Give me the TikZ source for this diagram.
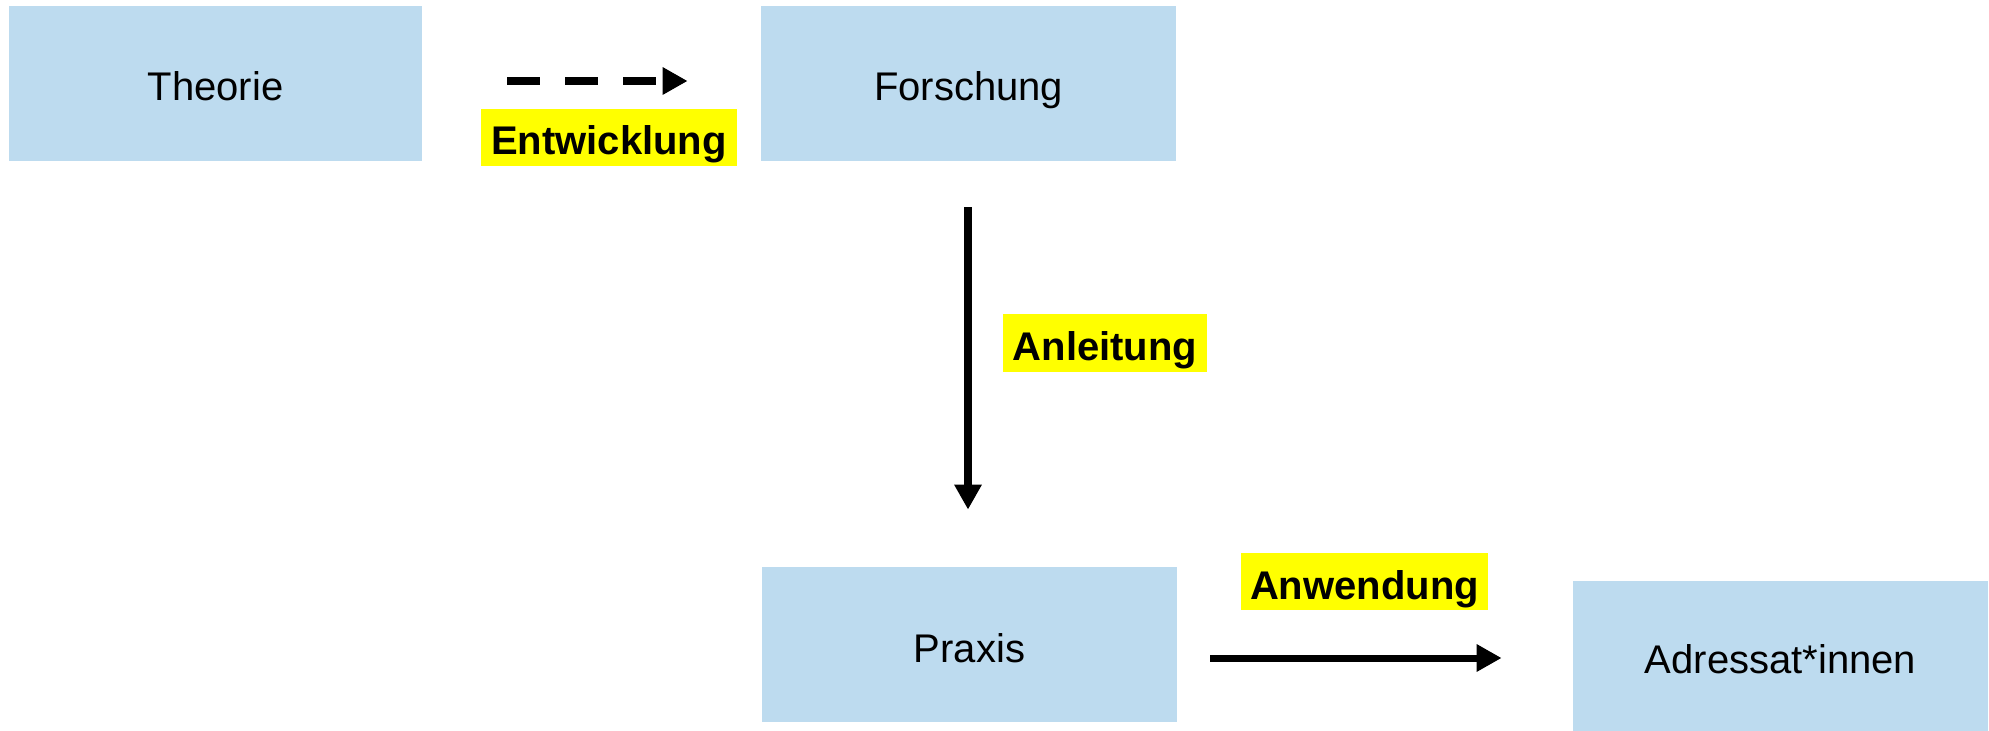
\documentclass[tikz,border=0pt]{standalone}
\usepackage{fontspec}
\setmainfont{Liberation Sans}
\usetikzlibrary{arrows.meta,calc}
\definecolor{boxblue}{RGB}{189,219,239}
\definecolor{hlyellow}{RGB}{255,255,0}
\tikzset{
  box/.style={fill=boxblue, inner sep=0pt, minimum width=207.5pt, minimum height=77.5pt,
    text height=20pt, text depth=2.5pt,
    font=\fontsize{20}{24}\selectfont},
  lab/.style={fill=hlyellow, inner sep=0pt, minimum height=28.5pt,
    text height=20pt, text depth=2.5pt,
    font=\fontsize{20}{24}\selectfont\bfseries},
  conn/.style={line width=4pt, -{Triangle[length=12.5pt,width=13pt]}},
}
\begin{document}
\begin{tikzpicture}[x=0.5pt,y=-0.5pt]
\useasboundingbox (0,0) rectangle (1989,731);
\node[box, minimum width=206.5pt] (theorie) at (215.5,83.5) {Theorie};
\node[box] (forschung) at (968.5,83.5) {Forschung};
\node[box] (praxis) at (969.5,644.5) {Praxis};
\node[box, minimum height=75pt] (adressat) at (1780.5,656) {Adressat*innen};

\node[lab, minimum width=128pt] (entw) at (609,137.5) {Entwicklung};
\node[lab, minimum width=102pt, minimum height=29pt] (anl) at (1105,343) {Anleitung};
\node[lab, minimum width=123.5pt] (anw) at (1364.5,581.5) {Anwendung};

\draw[conn, dash pattern=on 16.5pt off 12.5pt, shorten <=42.5pt, shorten >=36.5pt]
  ($(theorie.east)+(0,-2.5)$) -- ($(forschung.west)+(0,-2.5)$);
\draw[conn, shorten <=23pt, shorten >=28.5pt]
  ($(forschung.south)+(-0.5,0)$) -- ($(praxis.north)+(-1.5,0)$);
\draw[conn, line width=3.5pt]
  ($(praxis.east)+(33,13.5)$) -- ($(adressat.west)+(-71,2)$);
\end{tikzpicture}
\end{document}
